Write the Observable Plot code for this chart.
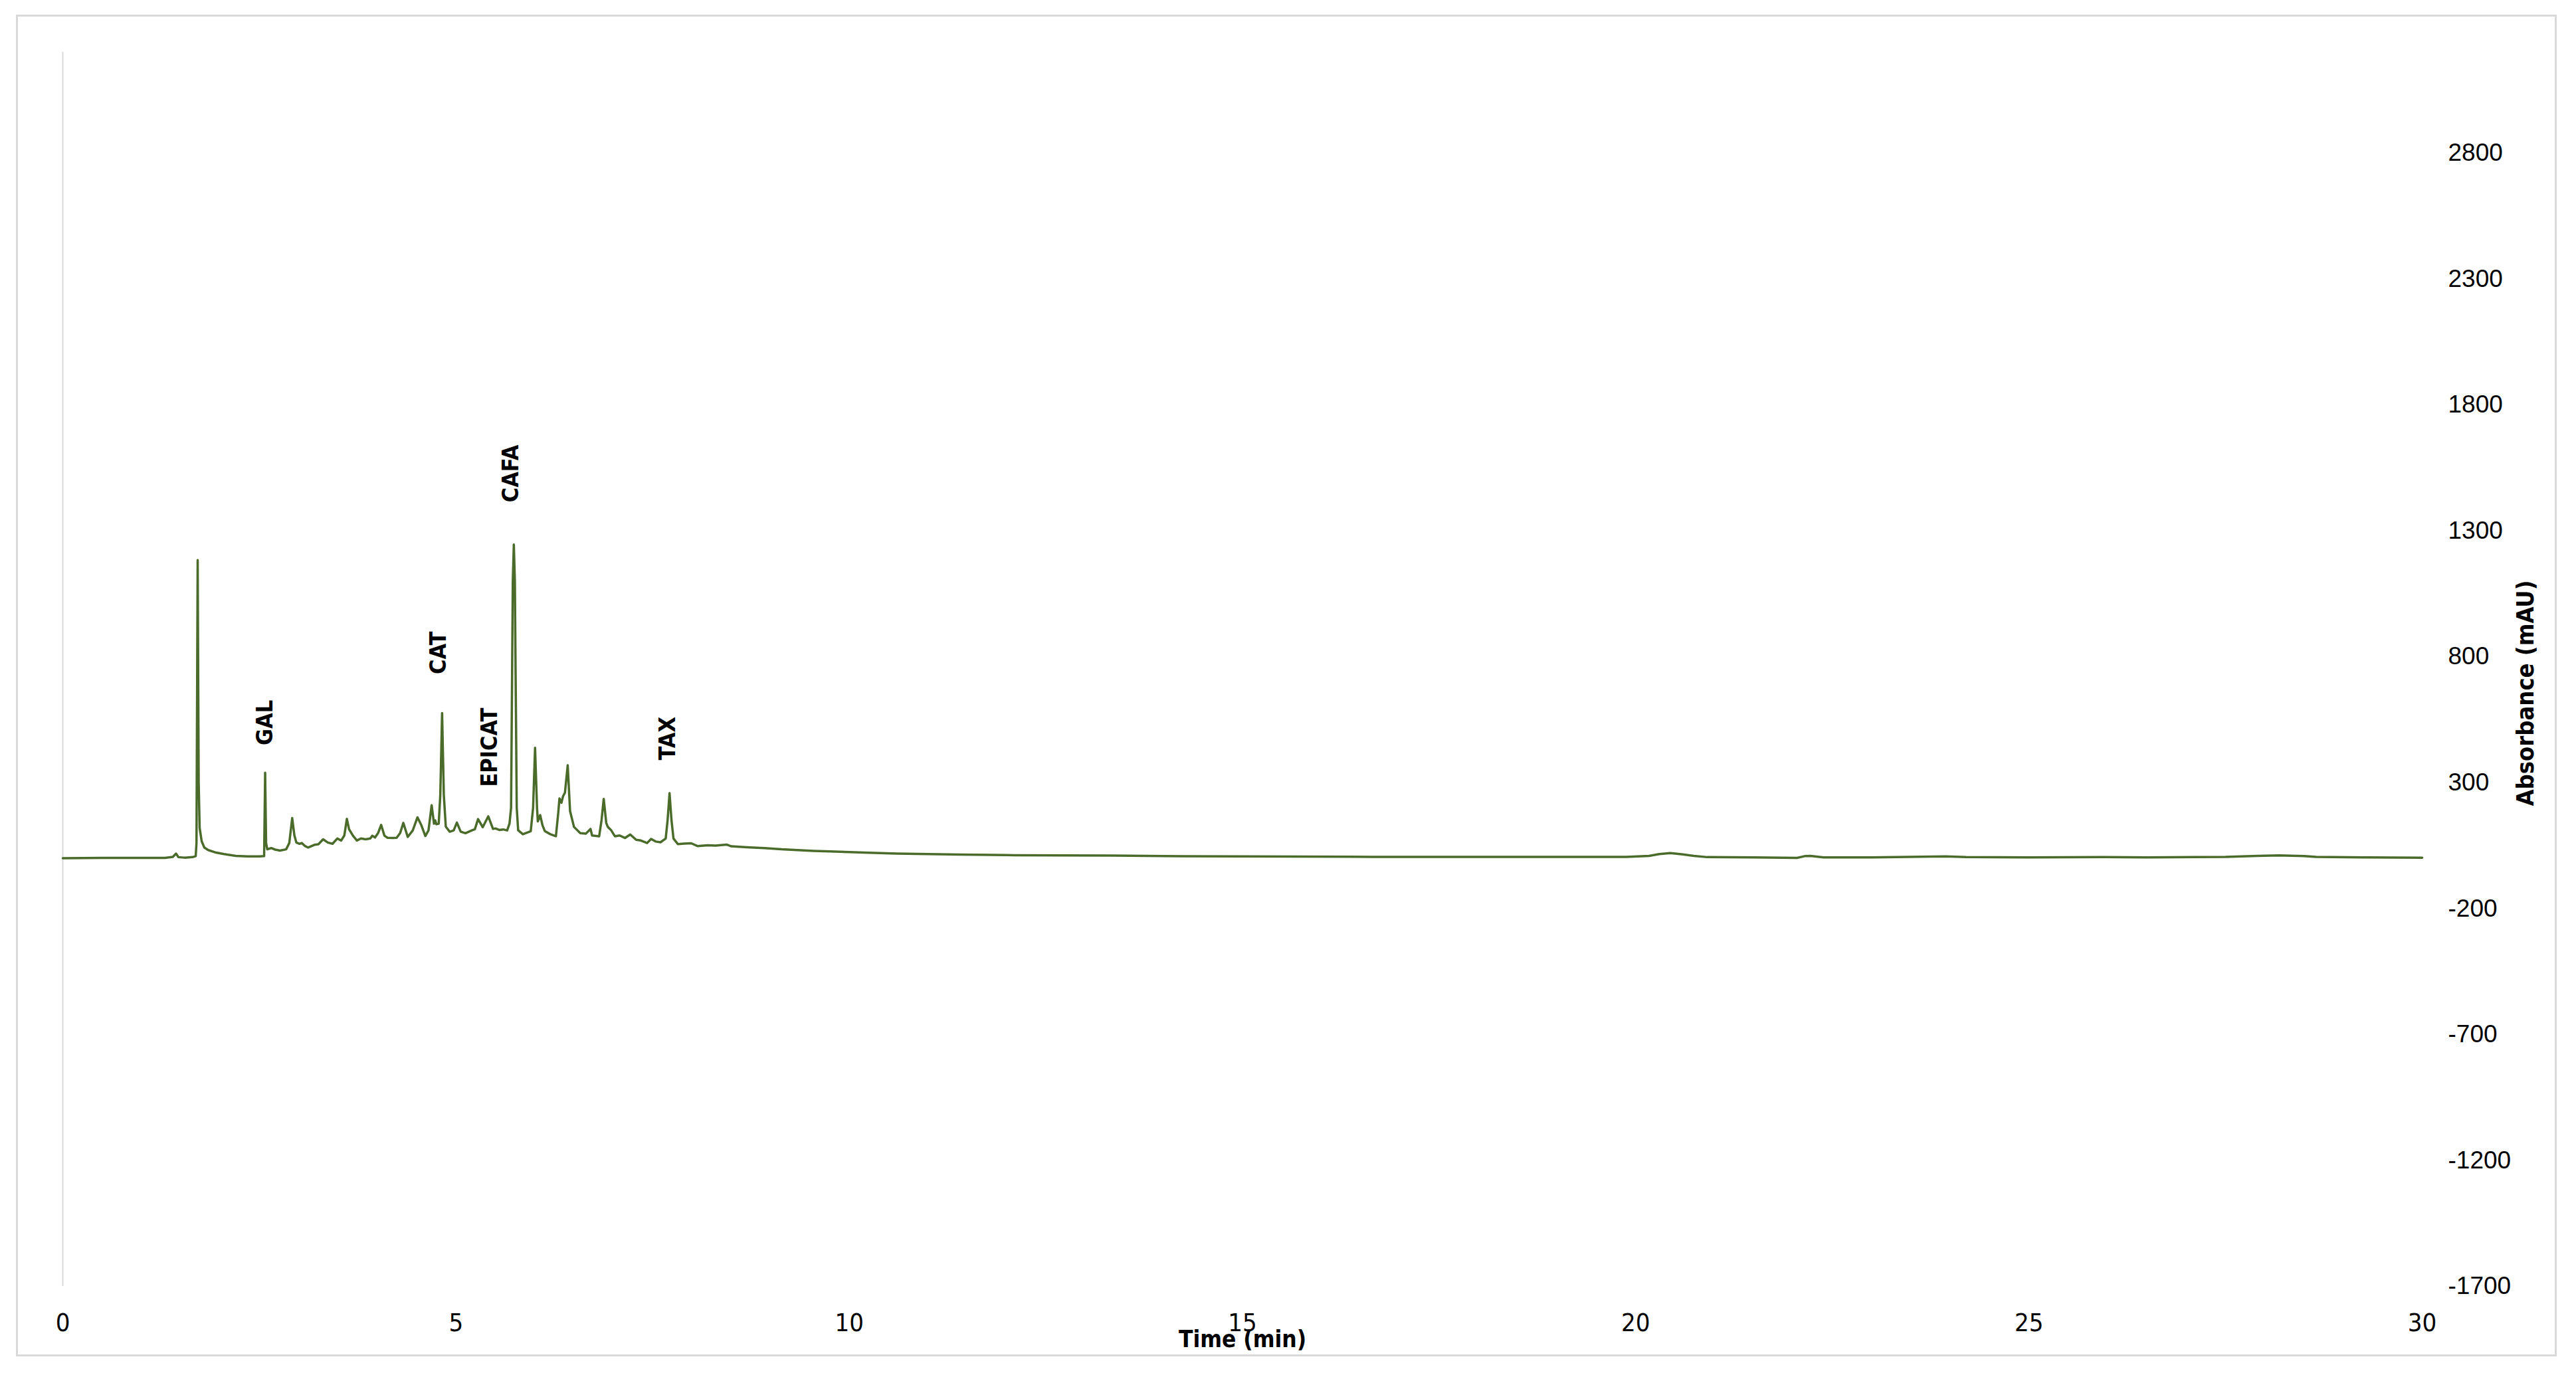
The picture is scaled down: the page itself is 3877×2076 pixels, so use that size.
<!DOCTYPE html>
<html>
<head>
<meta charset="utf-8">
<script src="https://cdn.jsdelivr.net/npm/d3@7"></script>
<script src="https://cdn.jsdelivr.net/npm/@observablehq/plot@0.6"></script>
<style>
  html, body { margin: 0; padding: 0; background: #ffffff; }
  #wrap { position: relative; width: 3877px; height: 2076px; overflow: hidden; background: #fff; }
  #frame { position: absolute; left: 24px; top: 22px; width: 3824px; height: 2020px; box-sizing: border-box; border: 3px solid #d9d9d9; pointer-events: none; }
  #chart { position: absolute; left: 0; top: 0; }
  g[aria-label="x-axis label"] text { font-family: "Liberation Sans Narrow", "DejaVu Sans Condensed", sans-serif; font-weight: bold; font-size: 35px; }
</style>
</head>
<body>
<div id="wrap"><div id="chart"></div><div id="frame"></div></div>
<script>
// Retention time (min)
const times = [
  0, 0.5, 1.0, 1.30, 1.40, 1.44, 1.47, 1.55, 1.65, 1.69,
  1.700, 1.715, 1.728, 1.740, 1.766, 1.80, 1.85, 1.95, 2.05, 2.20,
  2.35, 2.50, 2.56, 2.573, 2.585, 2.60, 2.65, 2.70, 2.76, 2.84,
  2.88, 2.917, 2.945, 2.97, 3.01, 3.04, 3.08, 3.12, 3.20, 3.25,
  3.31, 3.37, 3.43, 3.49, 3.54, 3.58, 3.612, 3.64, 3.69, 3.74,
  3.79, 3.85, 3.91, 3.935, 3.97, 4.01, 4.048, 4.09, 4.13, 4.20,
  4.245, 4.29, 4.33, 4.386, 4.45, 4.51, 4.56, 4.61, 4.65, 4.69,
  4.72, 4.735, 4.75, 4.78, 4.80, 4.823, 4.845, 4.87, 4.92, 4.97,
  5.011, 5.06, 5.12, 5.20, 5.24, 5.28, 5.34, 5.41, 5.47, 5.50,
  5.55, 5.60, 5.65, 5.68, 5.70, 5.722, 5.735, 5.748, 5.772, 5.79,
  5.85, 5.95, 5.98, 6.005, 6.03, 6.04, 6.07, 6.10, 6.13, 6.20,
  6.27, 6.30, 6.315, 6.34, 6.36, 6.385, 6.42, 6.45, 6.50, 6.58,
  6.65, 6.71, 6.73, 6.82, 6.85, 6.878, 6.91, 6.93, 6.97, 7.02,
  7.08, 7.15, 7.215, 7.29, 7.35, 7.43, 7.48, 7.54, 7.60, 7.666,
  7.69, 7.715, 7.74, 7.765, 7.82, 7.90, 7.99, 8.07, 8.20, 8.30,
  8.44, 8.50, 8.70, 8.92, 9.14, 9.34, 9.55, 9.76, 10.0, 10.19,
  10.6, 11.0, 11.41, 12.0, 13.35, 14.0, 15.0, 16.65, 18.0, 19.88,
  20.17, 20.30, 20.44, 20.60, 20.74, 20.91, 21.5, 22.05, 22.15, 22.22,
  22.39, 23.0, 23.94, 24.2, 25.0, 25.95, 26.5, 27.5, 27.9, 28.18,
  28.5, 28.65, 29.3, 30.0
];
// Absorbance (mAU)
const absorbance = [
  0, 1, 1, 1, 5, 18, 4, 2, 4, 8,
  60, 1183, 300, 120, 67, 42, 32, 22, 16, 9,
  7, 7, 8, 339, 60, 35, 40, 34, 30, 35,
  60, 159, 90, 62, 57, 60, 48, 42, 53, 55,
  75, 62, 57, 78, 70, 90, 156, 115, 89, 70,
  78, 75, 78, 89, 82, 100, 132, 89, 81, 80,
  81, 100, 140, 84, 110, 162, 130, 88, 110, 210,
  137, 150, 135, 137, 250, 576, 250, 125, 105, 110,
  141, 105, 99, 110, 115, 155, 123, 166, 116, 118,
  112, 114, 110, 137, 200, 1100, 1245, 1100, 200, 111,
  95, 107, 200, 438, 200, 146, 171, 130, 107, 95,
  87, 180, 237, 220, 245, 260, 369, 187, 124, 99,
  97, 116, 90, 87, 150, 235, 140, 124, 112, 87,
  90, 80, 94, 73, 70, 60, 76, 66, 63, 78,
  150, 258, 150, 78, 56, 58, 59, 48, 51, 50,
  54, 47, 43, 40, 35, 32, 29, 27, 24, 22,
  18, 16, 14, 12, 10, 8, 7, 5, 5, 5,
  9, 16, 20, 15, 9, 4, 3, 1, 8, 9,
  3, 3, 7, 4, 3, 4, 3, 5, 9, 11,
  8, 5, 3, 2
];
// Peak annotations
const peakNames = ["GAL", "CAT", "EPICAT", "CAFA", "TAX"];
const peakLabelTime = [2.57, 4.78, 5.43, 5.70, 7.69];
const peakLabelLevel = [538, 815, 440, 1527, 475];

const xTicks = [0, 5, 10, 15, 20, 25, 30];
const yTicks = [-1700, -1200, -700, -200, 300, 800, 1300, 1800, 2300, 2800];
const xTitle = "Time (min)";
const yTitle = "Absorbance (mAU)";

const series = times.map((t, i) => ({t, v: absorbance[i]}));
const peaks = peakNames.map((name, i) => ({name, t: peakLabelTime[i], v: peakLabelLevel[i]}));

const chart = Plot.plot({
  width: 3877,
  height: 2076,
  marginLeft: 94,
  marginRight: 232,
  marginTop: 78,
  marginBottom: 140,
  style: {background: "transparent", fontFamily: "'Liberation Sans', Arial, sans-serif", color: "#000"},
  x: {domain: [0, 30]},
  y: {domain: [-1700, 3200]},
  marks: [
    Plot.ruleX([0], {stroke: "#d9d9d9", strokeWidth: 2}),
    Plot.axisX({
      ticks: xTicks, tickSize: 0, tickPadding: 41, tickFormat: d => String(d),
      fontSize: 38, fontFamily: "'Liberation Sans Narrow', 'DejaVu Sans Condensed', sans-serif",
      label: xTitle, labelAnchor: "center", labelOffset: 91, labelArrow: "none"
    }),
    Plot.axisY({
      anchor: "right", ticks: yTicks, tickSize: 0, tickPadding: 39, tickFormat: d => String(d),
      fontSize: 37, fontFamily: "'Liberation Sans', Arial, sans-serif",
      textAnchor: "start", label: null
    }),
    Plot.text([yTitle], {
      frameAnchor: "right", textAnchor: "middle", dx: 156, dy: 36, rotate: -90,
      fontSize: 36, fontWeight: "bold",
      fontFamily: "'Liberation Sans Narrow', 'DejaVu Sans Condensed', sans-serif",
      fill: "#000"
    }),
    Plot.line(series, {x: "t", y: "v", stroke: "#4a6b2a", strokeWidth: 3.5, strokeLinejoin: "round"}),
    Plot.text(peaks, {
      x: "t", y: "v", text: "name", rotate: -90,
      fontSize: 34, fontWeight: "bold",
      fontFamily: "'Liberation Sans Narrow', 'DejaVu Sans Condensed', sans-serif",
      fill: "#000"
    })
  ]
});
document.getElementById("chart").appendChild(chart);
</script>
</body>
</html>
